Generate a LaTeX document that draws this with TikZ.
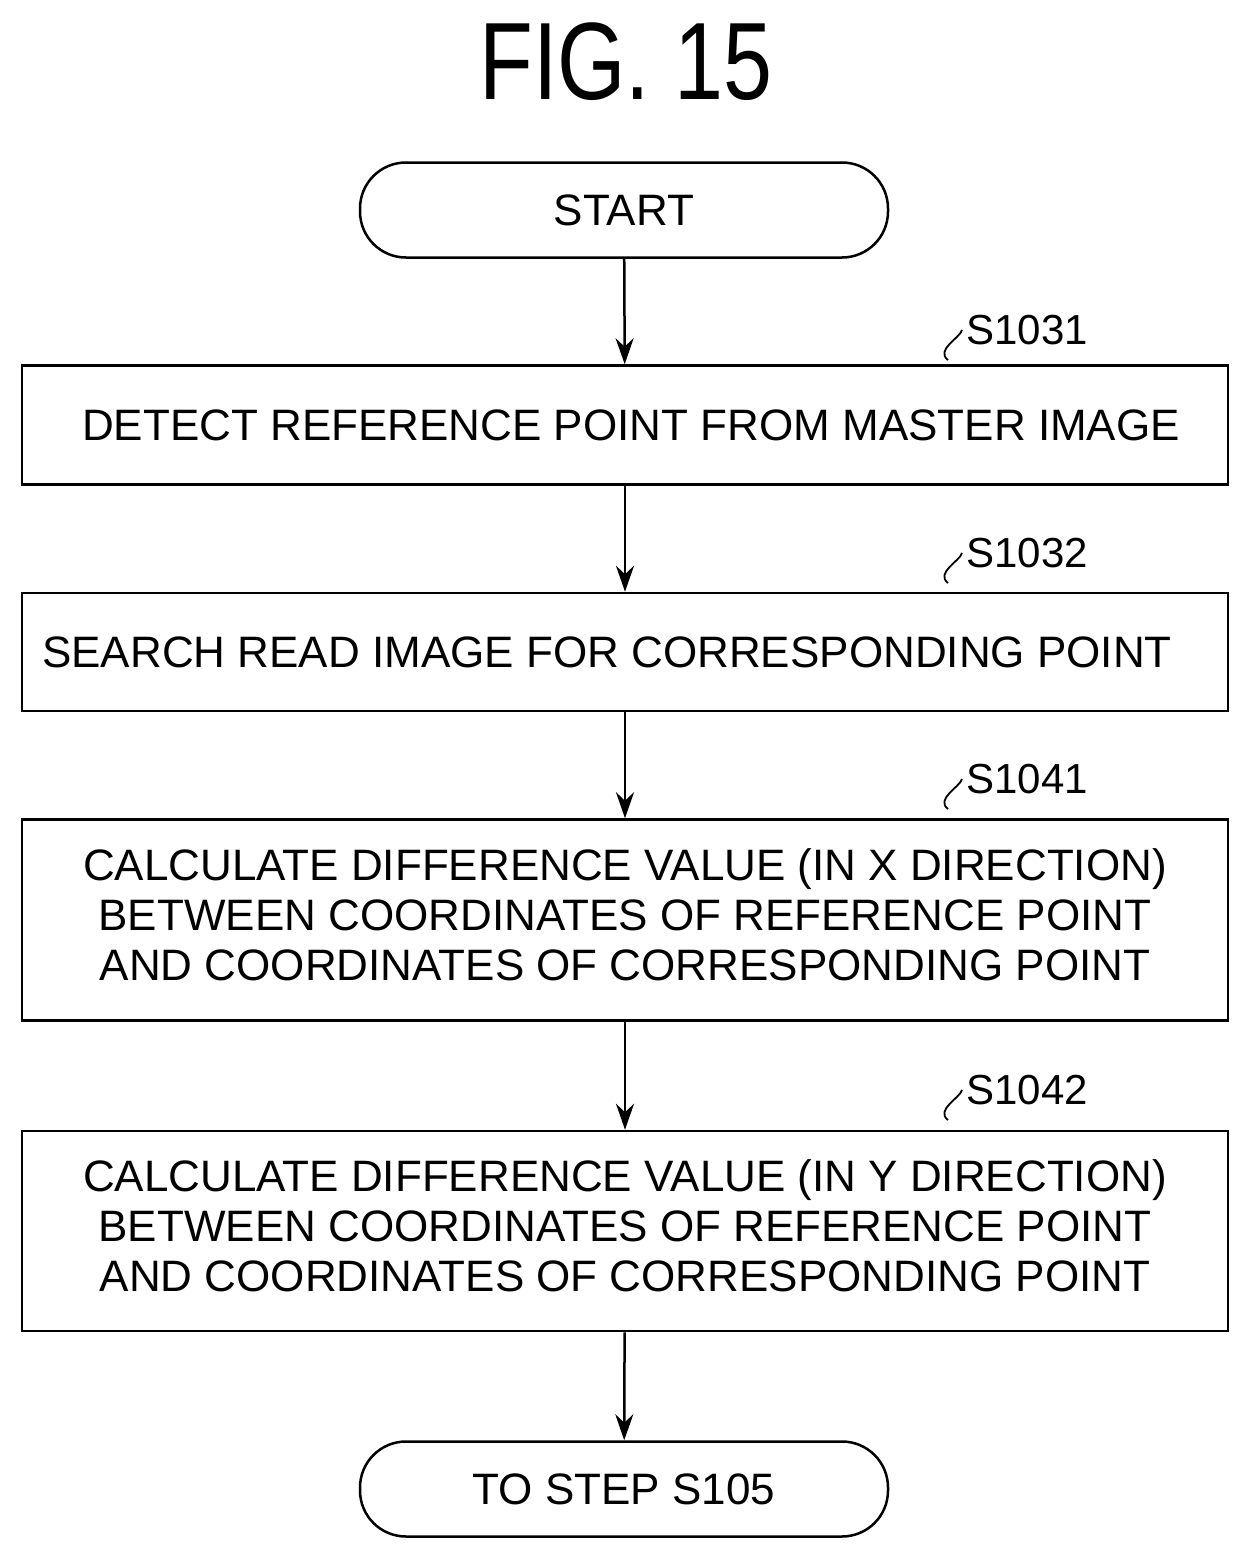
\documentclass[tikz,border=0pt]{standalone}
\usepackage{fontspec}
\setmainfont{Liberation Sans}
\usetikzlibrary{arrows.meta}
\begin{document}
\begin{tikzpicture}[x=1pt,y=-1pt,line width=2.5pt,
  box/.style={draw,rectangle,minimum width=1206pt,align=center,inner sep=0pt,font=\fontsize{44}{50}\selectfont},
  term/.style={draw,rounded corners=46pt,minimum width=528pt,minimum height=95pt,font=\fontsize{44}{50}\selectfont},
  arr/.style={-{Stealth[length=26pt,width=18pt]}},
  lab/.style={font=\fontsize{42}{44}\selectfont,anchor=west}]
\useasboundingbox (0,0) rectangle (1251,1558);
\node (title) at (626,62) {\fontsize{110}{110}\selectfont\scalebox{0.8}[1]{FIG. 15}};
\node[term] (start) at (624,210) {START};
\node[box,minimum height=119pt] (b1) at (625,425) {\hspace*{12pt}DETECT REFERENCE POINT FROM MASTER IMAGE};
\node[box,minimum height=118pt] (b2) at (625,652) {SEARCH READ IMAGE FOR CORRESPONDING POINT\hspace*{36pt}};
\node[box,minimum height=201pt] (b3) at (625,920) {\begin{tabular}{@{}c@{}}CALCULATE DIFFERENCE VALUE (IN X DIRECTION)\\BETWEEN COORDINATES OF REFERENCE POINT\\AND COORDINATES OF CORRESPONDING POINT\end{tabular}};
\node[box,minimum height=200pt] (b4) at (625,1231) {\begin{tabular}{@{}c@{}}CALCULATE DIFFERENCE VALUE (IN Y DIRECTION)\\BETWEEN COORDINATES OF REFERENCE POINT\\AND COORDINATES OF CORRESPONDING POINT\end{tabular}};
\node[term] (end) at (624,1489) {TO STEP S105};
\draw[arr] (start) -- (b1);
\draw[arr] (b1) -- (b2);
\draw[arr] (b2) -- (b3);
\draw[arr] (b3) -- (b4);
\draw[arr] (b4) -- (end);
\foreach \n/\t/\y in {l1/S1031/330,l2/S1032/553,l3/S1041/779,l4/S1042/1090}{
  \node[lab] (\n) at (962,\y) {\t};
  \draw[line width=1.8pt] (948,\y+30) .. controls (935,\y+20) and (960,\y+8) .. (\n.west);
}
\end{tikzpicture}
\end{document}
